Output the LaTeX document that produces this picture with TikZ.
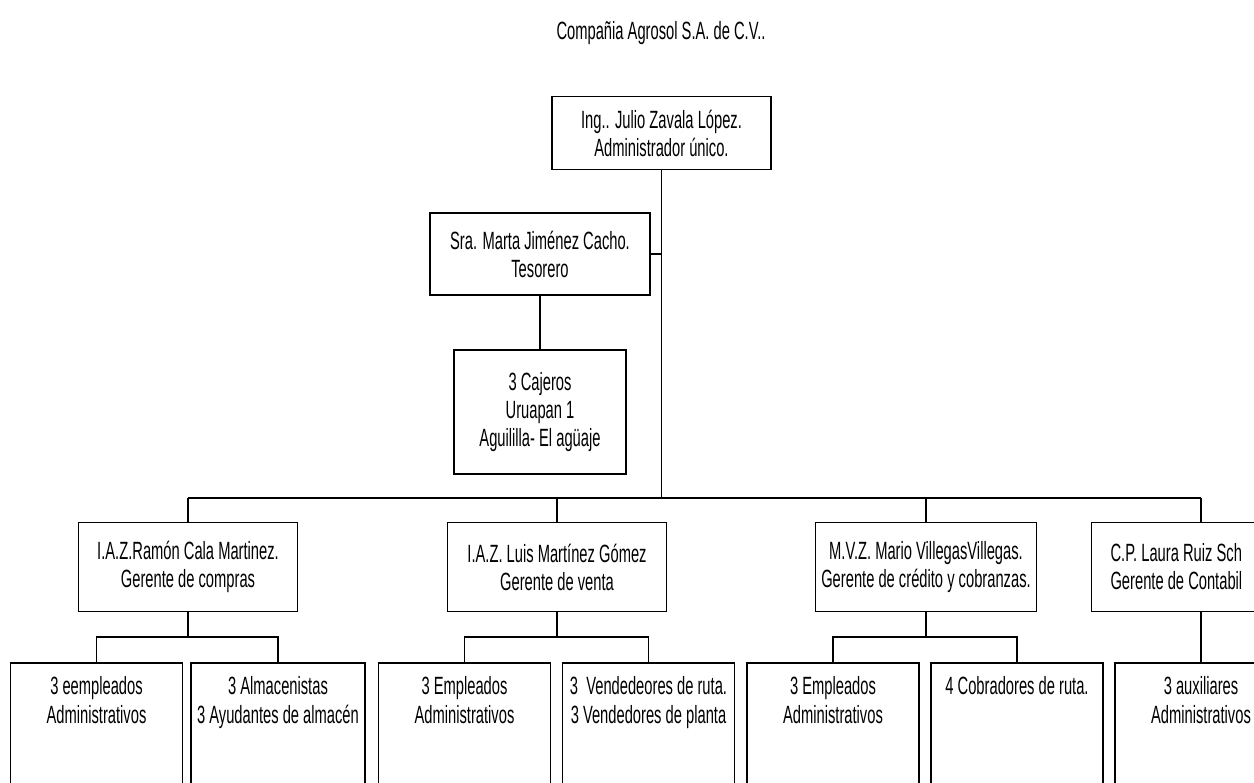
\documentclass[tikz,border=0pt]{standalone}
\usepackage{fontspec}
\setmainfont[FakeStretch=0.59]{Liberation Sans}
\begin{document}
\begin{tikzpicture}[x=0.02cm,y=-0.02cm,line width=0.9pt,
        every node/.style={font=\fontsize{14.2}{16}\selectfont,align=center},
        jefe/.style={draw,minimum width=4.38cm,minimum height=1.78cm},
        grupo/.style={draw,anchor=north,minimum width=3.44cm,text depth=2.6cm,inner ysep=8pt}]
                \clip(0,0)rectangle(1254,783);
                \node(titulo) at (661,33) {Compañia Agrosol S.A. de C.V..};
                \node[draw,minimum width=4.38cm,minimum height=1.46cm](admin) at (661.5,133) {Ing.. Julio Zavala López.\\Administrador único.};
                \node[draw,minimum width=4.4cm,minimum height=1.64cm](tes) at (540,254) {Sra. Marta Jiménez Cacho.\\Tesorero};
                \node[draw,minimum width=3.44cm,minimum height=2.48cm](caj) at (540,412) {3 Cajeros\\Uruapan 1\\Aguililla- El agüaje};
                \coordinate(hub) at (661.5,498);
                \node[jefe](m1) at (188,567) {I.A.Z.Ramón Cala Martinez.\\Gerente de compras};
                \node[jefe](m2) at (557,567) {I.A.Z. Luis Martínez Gómez\\Gerente de venta};
                \node[jefe](m3) at (926,567) {M.V.Z. Mario VillegasVillegas.\\Gerente de crédito y cobranzas.};
                \node[jefe,text width=3.62cm,align=flush left](m4) at (1201,567) {C.P. Laura Ruiz Sch\\Gerente de Contabil};
                \node[grupo](s1) at (96.5,662) {3 eempleados\\Administrativos};
                \node[grupo](s2) at (278,662) {3 Almacenistas\\3 Ayudantes de almacén};
                \node[grupo](s3) at (464.5,662) {3 Empleados\\Administrativos};
                \node[grupo](s4) at (648.5,662) {3~ Vendedeores de ruta.\\3 Vendedores de planta};
                \node[grupo](s5) at (833,662) {3 Empleados\\Administrativos};
                \node[grupo](s6) at (1017,662) {4 Cobradores de ruta.};
                \node[grupo](s7) at (1201,662) {3 auxiliares\\Administrativos};
                \draw(admin.south)--(hub);
                \draw(tes.east)--(tes.east-|hub);
                \draw(tes.south)--(caj.north);
                \draw(m1.north|-hub)--(m4.north|-hub);
                \foreach \m in {m1,m2,m3,m4}
                    \draw(\m.north)--(\m.north|-hub);
                \draw(m1.south)--++(0,25)coordinate(j1);
                \draw(s1.north)|-(j1)-|(s2.north);
                \draw(m2.south)--++(0,25)coordinate(j2);
                \draw(s3.north)|-(j2)-|(s4.north);
                \draw(m3.south)--++(0,25)coordinate(j3);
                \draw(s5.north)|-(j3)-|(s6.north);
                \draw(m4.south)--(s7.north);
            \end{tikzpicture}
\end{document}
